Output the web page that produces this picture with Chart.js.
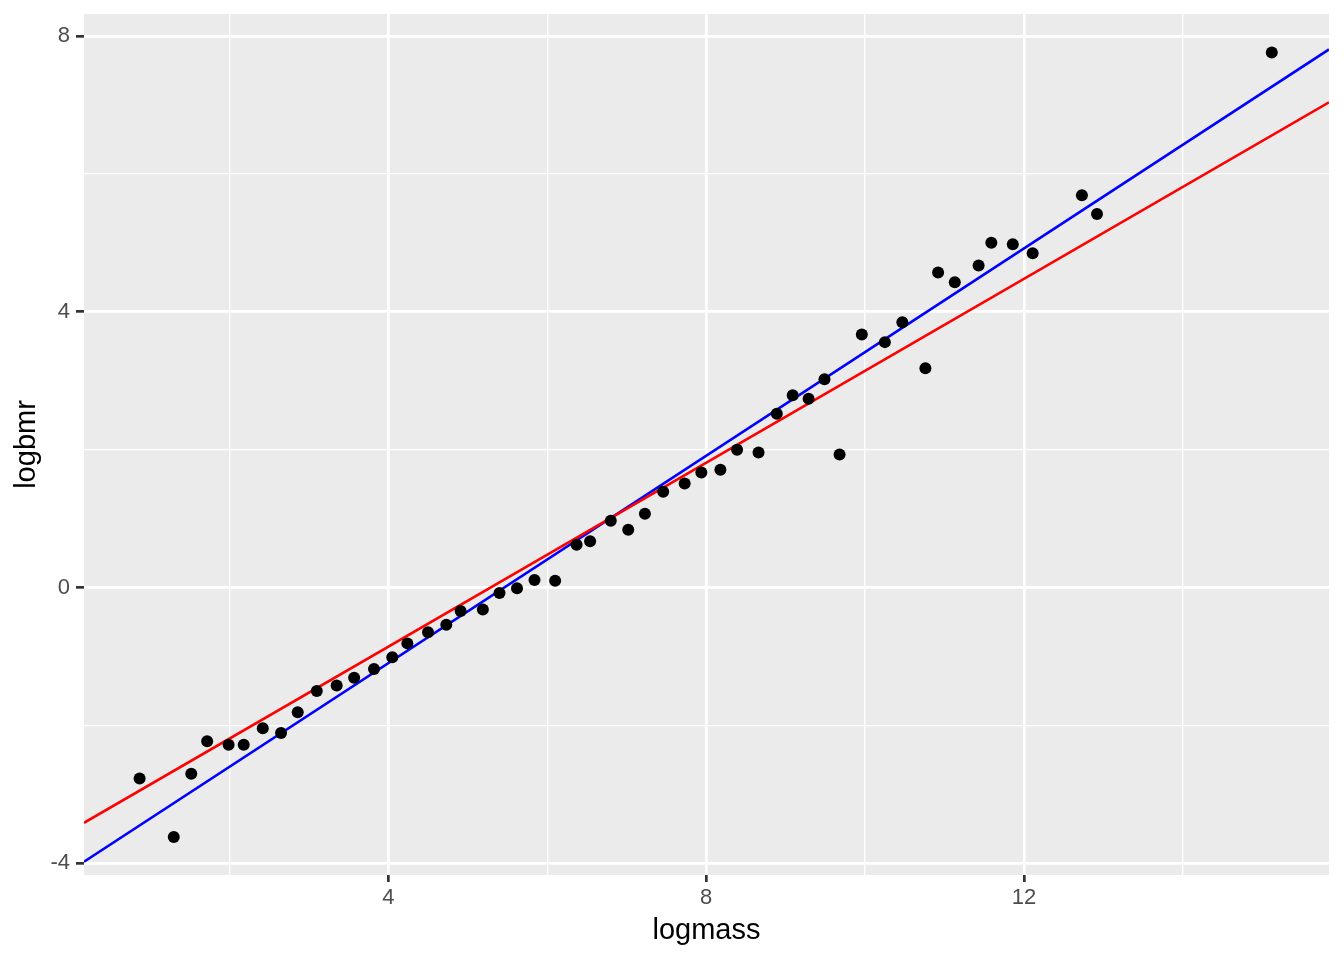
<!DOCTYPE html>
<html>
<head>
<meta charset="utf-8">
<script src="https://cdn.jsdelivr.net/npm/chart.js@4/dist/chart.umd.min.js"></script>
<style>
  html, body { margin: 0; padding: 0; background: #ffffff; }
  canvas { display: block; }
</style>
</head>
<body>
<canvas id="c" width="1344" height="960"></canvas>
<script>
// ---- data ----
const logmass = [0.87, 1.30, 1.52, 1.72, 1.99, 2.18, 2.42, 2.65, 2.86, 3.10,
                 3.35, 3.57, 3.82, 4.05, 4.24, 4.50, 4.73, 4.91, 5.19, 5.40,
                 5.62, 5.84, 6.10, 6.37, 6.54, 6.80, 7.02, 7.23, 7.46, 7.73,
                 7.94, 8.18, 8.39, 8.66, 8.89, 9.09, 9.29, 9.49, 9.68, 9.96,
                 10.25, 10.47, 10.76, 10.92, 11.13, 11.43, 11.59, 11.86, 12.11, 12.73,
                 12.92, 15.12];
const logbmr = [-2.77, -3.62, -2.70, -2.23, -2.28, -2.28, -2.04, -2.11, -1.81, -1.50,
                -1.42, -1.31, -1.18, -1.01, -0.81, -0.65, -0.54, -0.34, -0.32, -0.08,
                -0.01, 0.11, 0.10, 0.62, 0.67, 0.97, 0.84, 1.07, 1.39, 1.51,
                1.67, 1.71, 2.00, 1.96, 2.52, 2.79, 2.74, 3.02, 1.93, 3.67,
                3.56, 3.85, 3.18, 4.57, 4.43, 4.67, 5.00, 4.98, 4.85, 5.69,
                5.42, 7.76];
// fitted lines (intercept, slope)
const redFit = [-3.527, 0.667];
const blueFit = [-4.105, 0.752];
// axis ticks
const xTickValues = [2, 4, 6, 8, 10, 12, 14];
const xTickLabels = ['', '4', '', '8', '', '12', ''];
const yTickValues = [-4, -2, 0, 2, 4, 6, 8];
const yTickLabels = ['-4', '', '0', '', '4', '', '8'];
const xRange = [0.17, 15.84];
const yRange = [-4.17, 8.32];

// ---- build ----
const points = logmass.map((x, i) => ({ x: x, y: logbmr[i] }));
const fitLine = (f) => xRange.map(x => ({ x: x, y: f[0] + f[1] * x }));

const FONT = '"Liberation Sans", Arial, Helvetica, sans-serif';
const MAJOR_W = 2.7, MINOR_W = 1.35;

const panelBg = {
  id: 'panelBg',
  beforeDraw(chart) {
    const { ctx, chartArea: a } = chart;
    ctx.save();
    ctx.fillStyle = '#EBEBEB';
    ctx.fillRect(a.left, a.top, a.right - a.left, a.bottom - a.top);
    ctx.restore();
  }
};

function isMajor(values, labels, v) {
  const i = values.indexOf(v);
  return i >= 0 && labels[i] !== '';
}

new Chart(document.getElementById('c'), {
  type: 'scatter',
  data: {
    datasets: [
      { label: 'data', data: points, backgroundColor: '#000000', borderWidth: 0,
        pointRadius: 6, pointHoverRadius: 6, order: 0 },
      { label: 'red', data: fitLine(redFit), showLine: true, borderColor: '#FF0000',
        borderWidth: 2.6, pointRadius: 0, pointHoverRadius: 0, order: 1 },
      { label: 'blue', data: fitLine(blueFit), showLine: true, borderColor: '#0000FF',
        borderWidth: 2.6, pointRadius: 0, pointHoverRadius: 0, order: 2 }
    ]
  },
  options: {
    responsive: false,
    animation: false,
    devicePixelRatio: 1,
    layout: { padding: { top: 14, right: 15, left: 0, bottom: 0 } },
    plugins: { legend: { display: false }, tooltip: { enabled: false } },
    events: [],
    scales: {
      x: {
        type: 'linear', min: xRange[0], max: xRange[1],
        afterBuildTicks: (s) => { s.ticks = xTickValues.map(v => ({ value: v })); },
        afterFit: (s) => { s.height = 85; s.paddingLeft = 0; s.paddingRight = 0; },
        border: { display: false },
        grid: {
          color: '#FFFFFF',
          lineWidth: (c) => isMajor(xTickValues, xTickLabels, c.tick.value) ? MAJOR_W : MINOR_W,
          tickColor: (c) => isMajor(xTickValues, xTickLabels, c.tick.value) ? '#333333' : 'rgba(0,0,0,0)',
          tickWidth: MAJOR_W,
          tickLength: 7,
          drawTicks: true
        },
        ticks: {
          autoSkip: false, maxRotation: 0, padding: 3,
          color: '#4D4D4D', font: { family: FONT, size: 22 },
          callback: (v) => { const i = xTickValues.indexOf(v); return i >= 0 ? xTickLabels[i] : ''; }
        },
        title: { display: true, text: 'logmass', color: '#000000',
                 font: { family: FONT, size: 29 }, padding: { top: 0, bottom: 12 } }
      },
      y: {
        type: 'linear', min: yRange[0], max: yRange[1],
        afterBuildTicks: (s) => { s.ticks = yTickValues.map(v => ({ value: v })); },
        afterFit: (s) => { s.width = 84; s.paddingTop = 0; s.paddingBottom = 0; },
        border: { display: false },
        grid: {
          color: '#FFFFFF',
          lineWidth: (c) => isMajor(yTickValues, yTickLabels, c.tick.value) ? MAJOR_W : MINOR_W,
          tickColor: (c) => isMajor(yTickValues, yTickLabels, c.tick.value) ? '#333333' : 'rgba(0,0,0,0)',
          tickWidth: MAJOR_W,
          tickLength: 8,
          drawTicks: true
        },
        ticks: {
          autoSkip: false, padding: 6,
          color: '#4D4D4D', font: { family: FONT, size: 22 },
          callback: (v) => { const i = yTickValues.indexOf(v); return i >= 0 ? yTickLabels[i] : ''; }
        },
        title: { display: true, text: 'logbmr', color: '#000000',
                 font: { family: FONT, size: 29 }, padding: { top: 10, bottom: 0 } }
      }
    }
  },
  plugins: [panelBg]
});
</script>
</body>
</html>
